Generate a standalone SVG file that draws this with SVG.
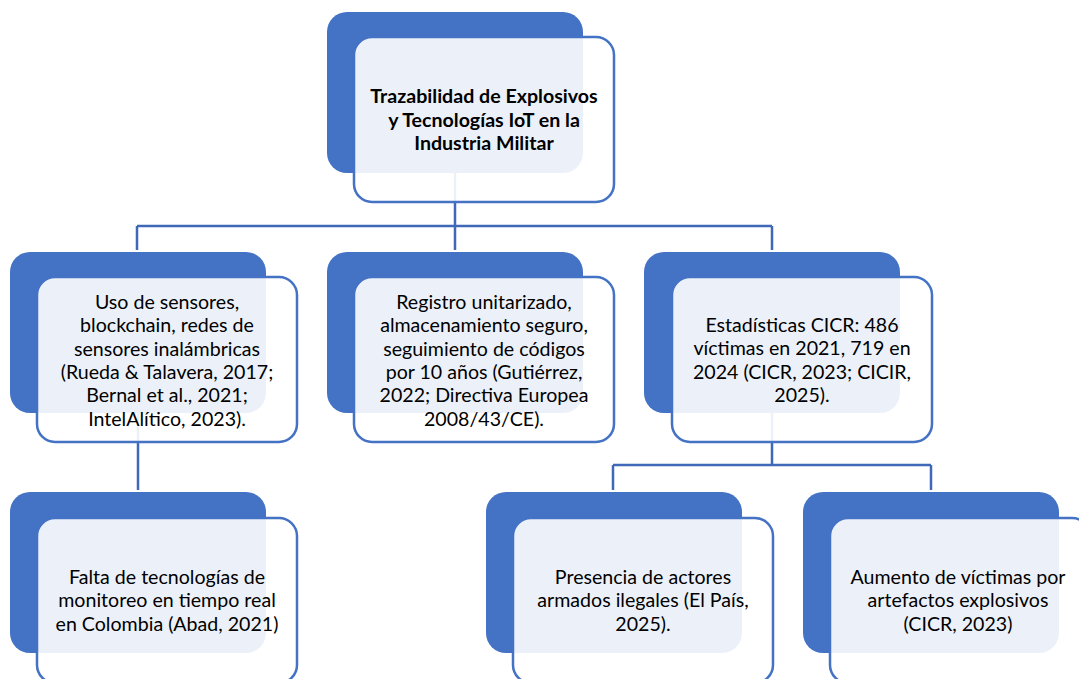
<svg xmlns="http://www.w3.org/2000/svg" width="1079" height="679" viewBox="0 0 1079 679">
<style>
.back{fill:#4472C4;}
.front{fill:#FFFFFF;fill-opacity:0.9;stroke:#4472C4;stroke-width:2.5;}
.conn{fill:none;stroke:#4068B8;stroke-width:2.5;}
text{font-family:Lato,"Liberation Sans",sans-serif;font-size:19.6px;fill:#000;text-anchor:middle;}
.bold{font-weight:bold;}
</style>
<rect width="1079" height="679" fill="#FFFFFF"/>
<g id="connectors">
<path class="conn" d="M455,173 V226 M137,226 H772 M137,226 V250 M455,226 V250 M772,226 V250"/>
<path class="conn" d="M138,413 V490"/>
<path class="conn" d="M772,413 V465 M613,465 H931 M613,465 V490 M931,465 V490"/>
</g>
<g id="node-root">
<rect class="back" x="327" y="12" width="256" height="161" rx="20"/>
<rect class="front" x="354" y="37" width="260" height="165" rx="18"/>
<text class="bold"><tspan x="484" y="103">Trazabilidad de Explosivos</tspan><tspan x="484" y="126.5">y Tecnologías IoT en la</tspan><tspan x="484" y="150">Industria Militar</tspan></text>
</g>
<g id="node-sensores">
<rect class="back" x="10" y="252" width="256" height="161" rx="20"/>
<rect class="front" x="37" y="277" width="260" height="165" rx="18"/>
<text><tspan x="167" y="309">Uso de sensores,</tspan><tspan x="167" y="332.3">blockchain, redes de</tspan><tspan x="167" y="355.6">sensores inalámbricas</tspan><tspan x="167" y="379">(Rueda &amp; Talavera, 2017;</tspan><tspan x="167" y="402.3">Bernal et al., 2021;</tspan><tspan x="167" y="425.6">IntelAlítico, 2023).</tspan></text>
</g>
<g id="node-registro">
<rect class="back" x="327" y="252" width="256" height="161" rx="20"/>
<rect class="front" x="354" y="277" width="260" height="165" rx="18"/>
<text><tspan x="484" y="309">Registro unitarizado,</tspan><tspan x="484" y="332.3">almacenamiento seguro,</tspan><tspan x="484" y="355.6">seguimiento de códigos</tspan><tspan x="484" y="379">por 10 años (Gutiérrez,</tspan><tspan x="484" y="402.3">2022; Directiva Europea</tspan><tspan x="484" y="425.6">2008/43/CE).</tspan></text>
</g>
<g id="node-estadisticas">
<rect class="back" x="644" y="252" width="256" height="161" rx="20"/>
<rect class="front" x="672" y="277" width="260" height="165" rx="18"/>
<text><tspan x="802" y="332">Estadísticas CICR: 486</tspan><tspan x="802" y="355.3">víctimas en 2021, 719 en</tspan><tspan x="802" y="378.6">2024 (CICR, 2023; CICIR,</tspan><tspan x="802" y="402">2025).</tspan></text>
</g>
<g id="node-falta">
<rect class="back" x="10" y="492" width="256" height="161" rx="20"/>
<rect class="front" x="37" y="518" width="260" height="165" rx="18"/>
<text><tspan x="167" y="584">Falta de tecnologías de</tspan><tspan x="167" y="607.3">monitoreo en tiempo real</tspan><tspan x="167" y="630.6">en Colombia (Abad, 2021)</tspan></text>
</g>
<g id="node-presencia">
<rect class="back" x="486" y="492" width="256" height="161" rx="20"/>
<rect class="front" x="513" y="518" width="260" height="165" rx="18"/>
<text><tspan x="643" y="584">Presencia de actores</tspan><tspan x="643" y="607.3">armados ilegales (El País,</tspan><tspan x="643" y="630.6">2025).</tspan></text>
</g>
<g id="node-aumento">
<rect class="back" x="803" y="492" width="256" height="161" rx="20"/>
<rect class="front" x="830" y="518" width="260" height="165" rx="18"/>
<text><tspan x="958" y="584">Aumento de víctimas por</tspan><tspan x="958" y="607.3">artefactos explosivos</tspan><tspan x="958" y="630.6">(CICR, 2023)</tspan></text>
</g>
</svg>
